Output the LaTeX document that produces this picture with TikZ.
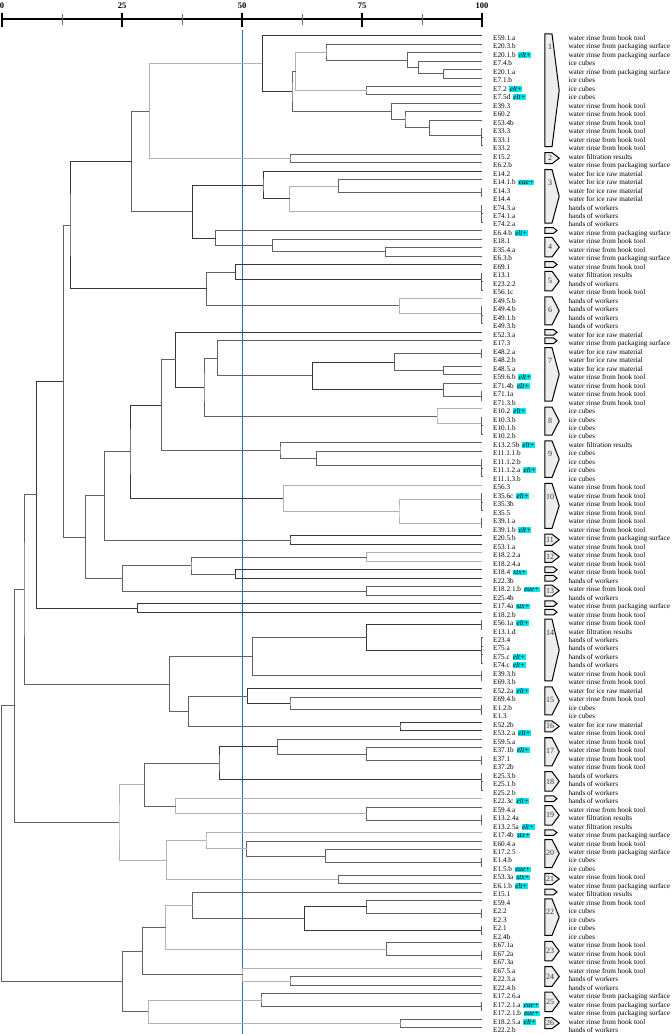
\documentclass[tikz,border=0pt]{standalone}
\usepackage{fontspec}
\setmainfont{Liberation Serif}
\usetikzlibrary{calc}
\definecolor{tagc}{RGB}{0,232,240}
\definecolor{cutc}{RGB}{30,112,200}
\newcommand\Dsh{water rinse from hook tool}
\newcommand\Dsp{water rinse from packaging surface}
\newcommand\Dsi{ice cubes}
\newcommand\Dsr{water for ice raw material}
\newcommand\Dsw{hands of workers}
\newcommand\Dsf{water filtration results}
\tikzset{
  br/.style={draw=black!62, line width=0.75pt},
  lt/.style={draw=black!30},
  dk/.style={draw=black!78},
  idl/.style={anchor=base west, inner sep=0pt, font=\fontsize{7.2}{8}\selectfont},
  tagl/.style={anchor=base west, inner sep=0.45pt, fill=tagc, font=\fontsize{7.2}{8}\selectfont\itshape},
  dsl/.style={anchor=base west, inner sep=0pt, font=\fontsize{7.2}{8}\selectfont},
  clsh/.style={draw=black, fill=black!7, line width=1pt, line join=miter},
  cln/.style={inner sep=0pt, font=\fontsize{8}{9}\selectfont, text=black!80},
  axl/.style={inner sep=0pt, font=\fontsize{8.5}{9}\selectfont\bfseries},
}
% leaf: index, id, tag, description code
\newcommand\lf[4]{%
  \coordinate (l#1) at (482,{35.5+(#1-1)*8.48});
  \node[idl] (t#1) at (493,{40.4+(#1-1)*8.48}) {#2};
  \ifx\relax#3\relax\else\node[tagl] (g#1) at ([xshift=2.4pt]t#1.base east) {#3};\fi
  \node[dsl] (d#1) at (568.3,{40.4+(#1-1)*8.48}) {\csname Ds#4\endcsname};
}
% merge: [style] name, x, child1, child2
\newcommand\mrg[5][]{%
  \coordinate (#2m) at ($(#4)!0.5!(#5)$);
  \coordinate (#2) at (#3,0 |- #2m);
  \draw[br,#1] (#4) -| (#2) |- (#5);
}
% cluster shape: first row, last row, label
\newcommand\cl[3]{%
  \pgfmathsetmacro\ta{35.5+(#1-1)*8.48-1.6}
  \pgfmathsetmacro\tb{35.5+(#2-1)*8.48+1.0}
  \pgfmathsetmacro\tm{(\ta+\tb)/2}
  \pgfmathsetmacro\tl{\ta+min((\tb-\ta)/2,13.4)}
  \draw[clsh] (544.8,\ta) -- (552,\ta) -- (559.2,\tm) -- (552,\tb) -- (544.8,\tb) -- cycle;
  \node[cln] (k#3) at (550,\tl) {#3};
}
% single-leaf shape
\newcommand\sm[1]{%
  \pgfmathsetmacro\ta{35.5+(#1-1)*8.48-2.8}
  \pgfmathsetmacro\tb{35.5+(#1-1)*8.48+2.8}
  \pgfmathsetmacro\tm{(\ta+\tb)/2}
  \draw[clsh] (544.8,\ta) -- (553.5,\ta) -- (557,\tm) -- (553.5,\tb) -- (544.8,\tb) -- cycle;
}
\begin{document}
\begin{tikzpicture}[x=1pt,y=-1pt]
\useasboundingbox (0,0) rectangle (672,1034);
% axis
\draw[line width=1.3pt] (2,19) -- (482,19);
\foreach \v/\x in {0/2,25/122,50/242,75/362,100/482}{
  \draw[line width=1.3pt] (\x,12.5) -- (\x,26.5);
  \node[axl] at (\x,6) {\v};
}
\foreach \x in {62,182,302,422}{\draw[line width=0.5pt,black!60] (\x,14) -- (\x,25);}
% cut line
\draw[cutc, line width=1.1pt] (242.7,30) -- (242.7,1034);
% leaves
\lf{1}{E59.1.a}{}{h}
\lf{2}{E20.3.b}{}{p}
\lf{3}{E20.1.b}{elt+}{p}
\lf{4}{E7.4.b}{}{i}
\lf{5}{E20.1.a}{}{p}
\lf{6}{E7.1.b}{}{i}
\lf{7}{E7.2}{elt+}{i}
\lf{8}{E7.5d}{elt+}{i}
\lf{9}{E39.3}{}{h}
\lf{10}{E60.2}{}{h}
\lf{11}{E53.4b}{}{h}
\lf{12}{E33.3}{}{h}
\lf{13}{E33.1}{}{h}
\lf{14}{E33.2}{}{h}
\lf{15}{E15.2}{}{f}
\lf{16}{E6.2.b}{}{p}
\lf{17}{E14.2}{}{r}
\lf{18}{E14.1.b}{eae+}{r}
\lf{19}{E14.3}{}{r}
\lf{20}{E14.4}{}{r}
\lf{21}{E74.3.a}{}{w}
\lf{22}{E74.1.a}{}{w}
\lf{23}{E74.2.a}{}{w}
\lf{24}{E6.4.b}{elt+}{p}
\lf{25}{E18.1}{}{h}
\lf{26}{E35.4.a}{}{h}
\lf{27}{E6.3.b}{}{p}
\lf{28}{E69.1}{}{h}
\lf{29}{E13.1}{}{f}
\lf{30}{E23.2.2}{}{w}
\lf{31}{E56.1c}{}{h}
\lf{32}{E49.5.b}{}{w}
\lf{33}{E49.4.b}{}{w}
\lf{34}{E49.1.b}{}{w}
\lf{35}{E49.3.b}{}{w}
\lf{36}{E52.3.a}{}{r}
\lf{37}{E17.3}{}{p}
\lf{38}{E48.2.a}{}{r}
\lf{39}{E48.2.b}{}{r}
\lf{40}{E48.5.a}{}{r}
\lf{41}{E59.6.b}{elt+}{h}
\lf{42}{E71.4b}{elt+}{h}
\lf{43}{E71.1a}{}{h}
\lf{44}{E71.3.b}{}{h}
\lf{45}{E10.2}{elt+}{i}
\lf{46}{E10.3.b}{}{i}
\lf{47}{E10.1.b}{}{i}
\lf{48}{E10.2.b}{}{i}
\lf{49}{E13.2.5b}{elt+}{f}
\lf{50}{E11.1.1.b}{}{i}
\lf{51}{E11.1.2.b}{}{i}
\lf{52}{E11.1.2.a}{elt+}{i}
\lf{53}{E11.1.3.b}{}{i}
\lf{54}{E56.3}{}{h}
\lf{55}{E35.6c}{elt+}{h}
\lf{56}{E35.3b}{}{h}
\lf{57}{E35.5}{}{h}
\lf{58}{E39.1.a}{}{h}
\lf{59}{E39.1.b}{elt+}{h}
\lf{60}{E20.5.b}{}{p}
\lf{61}{E53.1.a}{}{h}
\lf{62}{E18.2.2.a}{}{h}
\lf{63}{E18.2.4.a}{}{h}
\lf{64}{E18.4}{stx+}{h}
\lf{65}{E22.3b}{}{w}
\lf{66}{E18.2.1.b}{eae+}{h}
\lf{67}{E25.4b}{}{w}
\lf{68}{E17.4a}{stx+}{p}
\lf{69}{E18.2.b}{}{h}
\lf{70}{E56.1a}{elt+}{h}
\lf{71}{E13.1.d}{}{f}
\lf{72}{E23.4}{}{w}
\lf{73}{E75.a}{}{w}
\lf{74}{E75.c}{elt+}{w}
\lf{75}{E74.c}{elt+}{w}
\lf{76}{E39.3.b}{}{h}
\lf{77}{E69.3.b}{}{h}
\lf{78}{E52.2a}{elt+}{r}
\lf{79}{E69.4.b}{}{h}
\lf{80}{E1.2.b}{}{i}
\lf{81}{E1.3}{}{i}
\lf{82}{E52.2b}{}{r}
\lf{83}{E53.2.a}{elt+}{h}
\lf{84}{E59.5.a}{}{h}
\lf{85}{E37.1b}{elt+}{h}
\lf{86}{E37.1}{}{h}
\lf{87}{E37.2b}{}{h}
\lf{88}{E25.3.b}{}{w}
\lf{89}{E25.1.b}{}{w}
\lf{90}{E25.2.b}{}{w}
\lf{91}{E22.3c}{elt+}{w}
\lf{92}{E59.4.a}{}{h}
\lf{93}{E13.2.4a}{}{f}
\lf{94}{E13.2.5a}{elt+}{f}
\lf{95}{E17.4b}{stx+}{p}
\lf{96}{E60.4.a}{}{h}
\lf{97}{E17.2.5}{}{p}
\lf{98}{E1.4.b}{}{i}
\lf{99}{E1.5.b}{eae+}{i}
\lf{100}{E53.3a}{stx+}{h}
\lf{101}{E6.1.b}{elt+}{p}
\lf{102}{E15.1}{}{f}
\lf{103}{E59.4}{}{h}
\lf{104}{E2.2}{}{i}
\lf{105}{E2.3}{}{i}
\lf{106}{E2.1}{}{i}
\lf{107}{E2.4b}{}{i}
\lf{108}{E67.1a}{}{h}
\lf{109}{E67.2a}{}{h}
\lf{110}{E67.3a}{}{h}
\lf{111}{E67.5.a}{}{h}
\lf{112}{E22.3.a}{}{w}
\lf{113}{E22.4.b}{}{w}
\lf{114}{E17.2.6.a}{}{p}
\lf{115}{E17.2.1.a}{eae+}{p}
\lf{116}{E17.2.1.b}{eae+}{p}
\lf{117}{E18.2.5.a}{elt+}{h}
\lf{118}{E22.2.b}{}{w}
% ---- tree: block A
\mrg{a56}{443.3}{l5}{l6}
\mrg{a456}{418.3}{l4}{a56}
\mrg{a36}{407.3}{l3}{a456}
\mrg{a26}{326}{l2}{a36}
\mrg{a78}{366}{l7}{l8}
\mrg[lt]{a28}{295.7}{a26}{a78}
\mrg{a1314}{481.6}{l13}{l14}
\mrg{a1214}{481.2}{l12}{a1314}
\mrg{a1114}{429.3}{l11}{a1214}
\mrg{a1014}{405}{l10}{a1114}
\mrg{a914}{391.7}{l9}{a1014}
\mrg{a214}{292}{a28}{a914}
\mrg[dk]{a114}{262.3}{l1}{a214}
\mrg{a1516}{290}{l15}{l16}
\mrg[lt]{a116}{149.3}{a114}{a1516}
% block B
\mrg{b1920}{481.4}{l19}{l20}
\mrg{b1820}{338.3}{l18}{b1920}
\mrg{b2223}{481.6}{l22}{l23}
\mrg{b2123}{481.2}{l21}{b2223}
\mrg[lt]{b1823}{289.7}{b1820}{b2123}
\mrg[dk]{b1723}{263}{l17}{b1823}
\mrg{b2627}{385.7}{l26}{l27}
\mrg{b2527}{272.7}{l25}{b2627}
\mrg{b2427}{215.7}{l24}{b2527}
\mrg[dk]{b1727}{192.3}{b1723}{b2427}
\mrg{ab}{131.7}{a116}{b1727}
% block C
\mrg{c3031}{481.6}{l30}{l31}
\mrg{c2931}{481.2}{l29}{c3031}
\mrg[dk]{c2831}{235.3}{l28}{c2931}
\mrg{c3435}{481.6}{l34}{l35}
\mrg{c3335}{481.2}{l33}{c3435}
\mrg[lt]{c3235}{399.3}{l32}{c3335}
\mrg{c2835}{206.7}{c2831}{c3235}
\mrg[dk]{abc}{70}{ab}{c2835}
% block D
\mrg{d3839}{481.4}{l38}{l39}
\mrg{d4041}{443.3}{l40}{l41}
\mrg{d3841}{394.3}{d3839}{d4041}
\mrg{d4344}{481.4}{l43}{l44}
\mrg{d4244}{443.3}{l42}{d4344}
\mrg[dk]{d3844}{312.3}{d3841}{d4244}
\mrg{d3744}{217.3}{l37}{d3844}
\mrg{d4748}{481.6}{l47}{l48}
\mrg{d4648}{481.2}{l46}{d4748}
\mrg[lt]{d4548}{437}{l45}{d4648}
\mrg{d3748}{204}{d3744}{d4548}
\mrg[dk]{d3648}{175.7}{l36}{d3748}
\mrg{d5253}{481.6}{l52}{l53}
\mrg{d5153}{481.2}{l51}{d5253}
\mrg{d5053}{316.7}{l50}{d5153}
\mrg{d4953}{280}{l49}{d5053}
\mrg{d3653}{161.3}{d3648}{d4953}
\mrg{d5657}{481.6}{l56}{l57}
\mrg{d5557}{481.2}{l55}{d5657}
\mrg{d5859}{481.4}{l58}{l59}
\mrg[lt]{d5559}{399}{d5557}{d5859}
\mrg[lt]{d5459}{283.3}{l54}{d5559}
\mrg[dk]{d3659}{130}{d3653}{d5459}
\mrg[dk]{e6061}{290}{l60}{l61}
\mrg{d3661}{104.3}{d3659}{e6061}
\mrg[lt]{e6263}{366.7}{l62}{l63}
\mrg[dk]{e6465}{235.7}{l64}{l65}
\mrg{e6265}{191}{e6263}{e6465}
\mrg{e6667}{366.7}{l66}{l67}
\mrg{e6267}{122.3}{e6265}{e6667}
\mrg{d3667}{85.7}{d3661}{e6267}
\mrg{abcd}{63.3}{abc}{d3667}
\mrg[dk]{f6869}{137.7}{l68}{l69}
\mrg[dk]{abcdf}{36.7}{abcd}{f6869}
% block G
\mrg{g7071}{481.4}{l70}{l71}
\mrg{g7273}{481.6}{l72}{l73}
\mrg{g7475}{481.6}{l74}{l75}
\mrg{g7275}{481.2}{g7273}{g7475}
\mrg[dk]{g7075}{366.7}{g7071}{g7275}
\mrg{g7677}{481.4}{l76}{l77}
\mrg{g7077}{252.3}{g7075}{g7677}
\mrg{g8081}{481.4}{l80}{l81}
\mrg{g7981}{290}{l79}{g8081}
\mrg[dk]{g7881}{247.7}{l78}{g7981}
\mrg[dk]{g8283}{400}{l82}{l83}
\mrg{g7883}{188.3}{g7881}{g8283}
\mrg{g7083}{169.3}{g7077}{g7883}
\mrg{top2}{24}{abcdf}{g7083}
% block H
\mrg{h8687}{481.4}{l86}{l87}
\mrg{h8587}{366.7}{l85}{h8687}
\mrg{h8487}{277.7}{l84}{h8587}
\mrg{h8990}{481.6}{l89}{l90}
\mrg{h8890}{481.2}{l88}{h8990}
\mrg[dk]{h8490}{219}{h8487}{h8890}
\mrg{h9394}{481.4}{l93}{l94}
\mrg{h9294}{366.7}{l92}{h9394}
\mrg[lt]{h9194}{175.7}{l91}{h9294}
\mrg{h8494}{144.3}{h8490}{h9194}
\mrg{h9899}{481.4}{l98}{l99}
\mrg{h9799}{325.7}{l97}{h9899}
\mrg{h9699}{246.7}{l96}{h9799}
\mrg[lt]{h9599}{206}{l95}{h9699}
\mrg{h100}{338.3}{l100}{l101}
\mrg[lt]{h95101}{166.7}{h9599}{h100}
\mrg[lt]{h84101}{119}{h8494}{h95101}
\mrg{top3}{14.3}{top2}{h84101}
% block I
\mrg{i104}{481.4}{l104}{l105}
\mrg{i103}{366.7}{l103}{i104}
\mrg{i106}{481.4}{l106}{l107}
\mrg[dk]{i103b}{304.3}{i103}{i106}
\mrg{i102}{192.7}{l102}{i103b}
\mrg{i109}{481.4}{l109}{l110}
\mrg{i108}{386.7}{l108}{i109}
\mrg[lt]{i102b}{165.7}{i102}{i108}
\mrg{i112}{290}{l112}{l113}
\mrg[lt]{i111}{242.7}{l111}{i112}
\mrg{i102c}{142.7}{i102b}{i111}
\mrg{i115}{481.4}{l115}{l116}
\mrg{i114}{261}{l114}{i115}
\mrg{i117}{400}{l117}{l118}
\mrg[lt]{i114b}{148.3}{i114}{i117}
\mrg{i102d}{122.3}{i102c}{i114b}
\mrg{root}{1.7}{top3}{i102d}
% cluster shapes
\cl{1}{14}{1}
\cl{15}{16}{2}
\cl{17}{23}{3}
\sm{24}
\cl{25}{27}{4}
\sm{28}
\cl{29}{31}{5}
\cl{32}{35}{6}
\sm{36}
\sm{37}
\cl{38}{44}{7}
\cl{45}{48}{8}
\cl{49}{53}{9}
\cl{54}{59}{10}
\cl{60}{61}{11}
\cl{62}{63}{12}
\sm{64}
\sm{65}
\cl{66}{67}{13}
\sm{68}
\sm{69}
\cl{70}{77}{14}
\cl{78}{81}{15}
\cl{82}{83}{16}
\cl{84}{87}{17}
\cl{88}{90}{18}
\sm{91}
\cl{92}{94}{19}
\sm{95}
\cl{96}{99}{20}
\cl{100}{101}{21}
\sm{102}
\cl{103}{107}{22}
\cl{108}{110}{23}
\cl{111}{113}{24}
\cl{114}{116}{25}
\cl{117}{118}{26}
\end{tikzpicture}
\end{document}
